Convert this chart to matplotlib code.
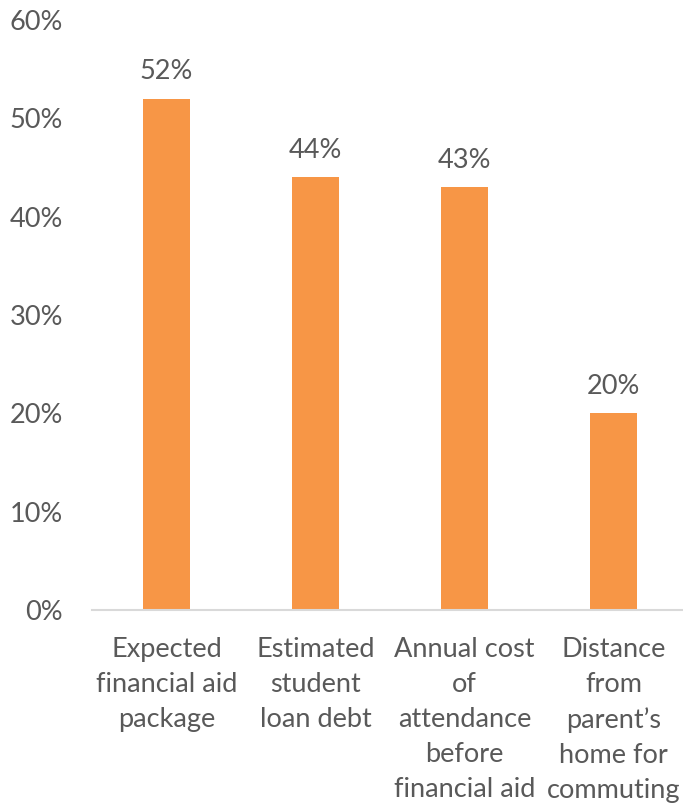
import matplotlib
matplotlib.use("Agg")
import matplotlib.pyplot as plt
from matplotlib.ticker import PercentFormatter

plt.rcParams['font.family'] = ['Lato', 'DejaVu Sans']

categories = ["Expected\nfinancial aid\npackage",
              "Estimated\nstudent\nloan debt",
              "Annual cost\nof\nattendance\nbefore\nfinancial aid",
              "Distance\nfrom\nparent\u2019s\nhome for\ncommuting"]
values = [0.52, 0.44, 0.43, 0.20]

text_col = "#595959"
bar_col = "#F79646"
fs = 19.5

fig = plt.figure(figsize=(6.83, 8.05), dpi=100)
ax = fig.add_axes([92/683, 195/805, 596/683, 590/805])

x = range(len(values))
bars = ax.bar(x, values, width=0.315, color=bar_col, zorder=2)

# value labels above each bar
for xi, v in zip(x, values):
    ax.annotate(f"{v*100:.0f}%", (xi, v), xytext=(0, 10.5), textcoords="offset points",
                ha="center", va="bottom", fontsize=fs, color=text_col)

ax.set_xlim(-0.5, 3.5)
ax.set_ylim(0, 0.6)
ax.set_yticks([0, 0.1, 0.2, 0.3, 0.4, 0.5, 0.6])
ax.yaxis.set_major_formatter(PercentFormatter(1.0, decimals=0))
ax.set_xticks(list(x))
ax.set_xticklabels(categories, linespacing=1.5)

ax.tick_params(axis="y", length=0, pad=21, labelsize=fs, labelcolor=text_col)
ax.tick_params(axis="x", length=0, pad=19.5, labelsize=fs, labelcolor=text_col)

for s in ["top", "right", "left"]:
    ax.spines[s].set_visible(False)
ax.spines["bottom"].set_color("#D9D9D9")
ax.spines["bottom"].set_linewidth(1.5)

fig.savefig("out.png", dpi=100)
